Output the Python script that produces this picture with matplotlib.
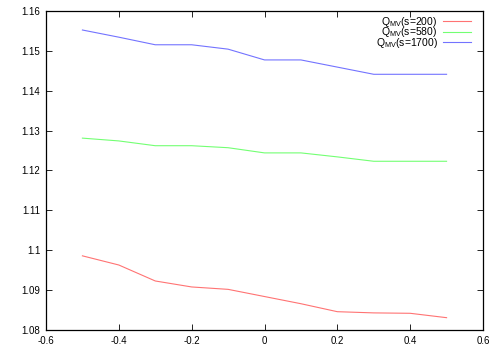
import matplotlib
matplotlib.use('Agg')
import matplotlib.pyplot as plt
from matplotlib.ticker import FormatStrFormatter, MultipleLocator

# Data
x = [-0.5, -0.4, -0.3, -0.2, -0.1, 0.0, 0.1, 0.2, 0.3, 0.4, 0.5]
q200 = [1.0986, 1.0963, 1.0923, 1.0908, 1.0902, 1.0884, 1.0866, 1.0846, 1.0843, 1.0842, 1.0831]
q580 = [1.1281, 1.1274, 1.1262, 1.1262, 1.1257, 1.1244, 1.1244, 1.1234, 1.1223, 1.1223, 1.1223]
q1700 = [1.1552, 1.1534, 1.1515, 1.1515, 1.1504, 1.1477, 1.1477, 1.1459, 1.1441, 1.1441, 1.1441]
labels = [r'Q$_{\rm MV}$(s=200)', r'Q$_{\rm MV}$(s=580)', r'Q$_{\rm MV}$(s=1700)']

plt.rcParams['font.family'] = 'Liberation Sans'
plt.rcParams['mathtext.fontset'] = 'custom'
plt.rcParams['mathtext.rm'] = 'Liberation Sans'

fig = plt.figure(figsize=(5, 3.5), dpi=100)
ax = fig.add_axes([0.092, 0.057, 0.874, 0.912])

lw = 0.8
ax.plot(x, q200, color='#ff0000', lw=lw, alpha=0.55, label=labels[0])
ax.plot(x, q580, color='#00ff00', lw=lw, alpha=0.55, label=labels[1])
ax.plot(x, q1700, color='#0000ff', lw=lw, alpha=0.55, label=labels[2])

ax.set_xlim(-0.6, 0.6)
ax.set_ylim(1.08, 1.16)
ax.xaxis.set_major_locator(MultipleLocator(0.2))
ax.yaxis.set_major_locator(MultipleLocator(0.01))
ax.xaxis.set_major_formatter(FormatStrFormatter('%g'))
ax.yaxis.set_major_formatter(FormatStrFormatter('%g'))
ax.tick_params(direction='in', top=True, right=True, length=4, width=0.6, labelsize=7, pad=4)
for s in ax.spines.values():
    s.set_linewidth(0.9)

# Rows are packed tightly, as in the reference (subscripts nearly touch)
ax.legend(loc='upper right', bbox_to_anchor=(0.982, 1.0), frameon=False,
          markerfirst=False, fontsize=7.5, handlelength=2.7, labelspacing=-0.35,
          handletextpad=0.5, borderaxespad=0.1, borderpad=0.3)

fig.savefig('out.png', dpi=100)
